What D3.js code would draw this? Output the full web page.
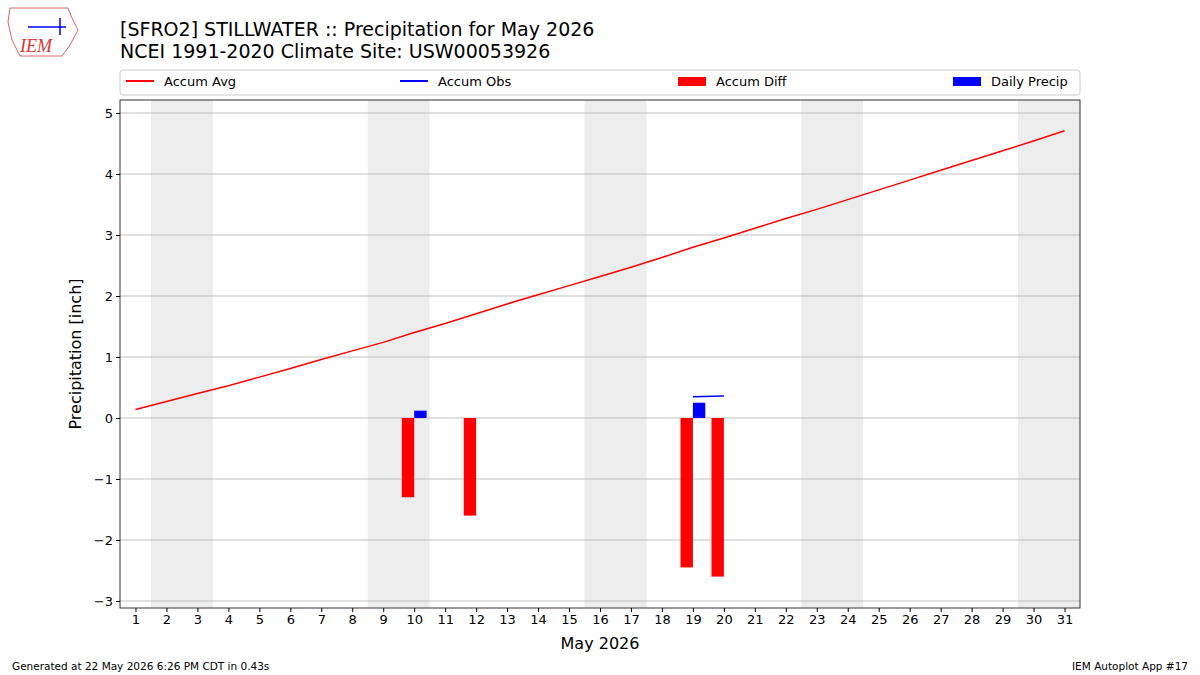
<!DOCTYPE html>
<html><head><meta charset="utf-8">
<script src="https://cdn.jsdelivr.net/npm/d3@7"></script>
<style>body{margin:0;background:#fff;font-family:"DejaVu Sans",sans-serif}</style>
</head><body><div id="chart"></div>
<script>
var days = d3.range(1, 32);
var accumAvg = [0.14,0.27,0.40,0.53,0.67,0.81,0.96,1.10,1.24,1.40,1.55,1.71,1.87,2.02,2.17,2.32,2.47,2.63,2.80,2.95,3.11,3.27,3.42,3.58,3.74,3.90,4.06,4.22,4.38,4.54,4.71];
var obsDays = [19, 20];
var accumObs = [0.35, 0.36];
var diffDays = [10, 12, 19, 20];
var accumDiff = [-1.30, -1.60, -2.45, -2.60];
var precipDays = [10, 19];
var dailyPrecip = [0.12, 0.25];
var weekends = [[1.5,3.5],[8.5,10.5],[15.5,17.5],[22.5,24.5],[29.5,31.5]];
var yTicks = [-3,-2,-1,0,1,2,3,4,5];

var W = 1200, H = 675;
var m = {left:120, right:1080, top:100, bottom:608};
var svg = d3.select("#chart").append("svg").attr("width", W).attr("height", H);

var x = d3.scaleLinear().domain([0.5, 31.5]).range([m.left, m.right]);
var y = d3.scaleLinear().domain([-3.115, 5.213]).range([m.bottom, m.top]);

svg.selectAll(".wk").data(weekends).enter().append("rect")
    .attr("x", function(d){ return x(d[0]); })
    .attr("width", function(d){ return x(d[1]) - x(d[0]); })
    .attr("y", m.top).attr("height", m.bottom - m.top)
    .attr("fill", "#ededed");

svg.selectAll(".grid").data(yTicks).enter().append("line")
    .attr("x1", m.left).attr("x2", m.right)
    .attr("y1", function(d){ return y(d); }).attr("y2", function(d){ return y(d); })
    .attr("stroke", "#b0b0b0").attr("stroke-width", 0.8);

svg.selectAll(".diff").data(diffDays).enter().append("rect")
    .attr("x", function(d){ return x(d - 0.4); })
    .attr("width", x(1.4) - x(1))
    .attr("y", y(0))
    .attr("height", function(d, i){ return y(accumDiff[i]) - y(0); })
    .attr("fill", "red");

svg.selectAll(".pr").data(precipDays).enter().append("rect")
    .attr("x", function(d){ return x(d); })
    .attr("width", x(1.4) - x(1))
    .attr("y", function(d, i){ return y(dailyPrecip[i]); })
    .attr("height", function(d, i){ return y(0) - y(dailyPrecip[i]); })
    .attr("fill", "blue");

var line = d3.line().x(function(d){ return x(d[0]); }).y(function(d){ return y(d[1]); });
svg.append("path").datum(days.map(function(d, i){ return [d, accumAvg[i]]; }))
    .attr("d", line).attr("fill", "none").attr("stroke", "red").attr("stroke-width", 1.5);
svg.append("path").datum(obsDays.map(function(d, i){ return [d, accumObs[i]]; }))
    .attr("d", line).attr("fill", "none").attr("stroke", "blue").attr("stroke-width", 1.5);

svg.append("rect").attr("x", m.left).attr("y", m.top)
    .attr("width", m.right - m.left).attr("height", m.bottom - m.top)
    .attr("fill", "none").attr("stroke", "#000").attr("stroke-width", 0.8);

var xAxis = svg.append("g").attr("transform", "translate(0," + m.bottom + ")")
    .call(d3.axisBottom(x).tickValues(days).tickFormat(d3.format("d")).tickSizeOuter(0).tickSize(4));
var yAxis = svg.append("g").attr("transform", "translate(" + m.left + ",0)")
    .call(d3.axisLeft(y).tickValues(yTicks).tickFormat(function(d){ return d < 0 ? "\u2212" + (-d) : d; }).tickSizeOuter(0).tickSize(4));
[xAxis, yAxis].forEach(function(a){
    a.select(".domain").remove();
    a.selectAll("text").attr("font-size", 13).attr("font-family", "DejaVu Sans").attr("fill", "#000");
});

svg.append("text").attr("x", 600).attr("y", 649).attr("text-anchor", "middle")
    .attr("font-size", 16).text("May 2026");
svg.append("text").attr("transform", "translate(81,354) rotate(-90)").attr("text-anchor", "middle")
    .attr("font-size", 16).text("Precipitation [inch]");

svg.append("text").attr("x", 120).attr("y", 36).attr("font-size", 19)
    .text("[SFRO2] STILLWATER :: Precipitation for May 2026");
svg.append("text").attr("x", 120).attr("y", 58).attr("font-size", 19)
    .text("NCEI 1991-2020 Climate Site: USW00053926");

// legend
svg.append("rect").attr("x", 120).attr("y", 70).attr("width", 960).attr("height", 25)
    .attr("fill", "#fff").attr("stroke", "#ccc").attr("rx", 3);
var legend = [
    {label:"Accum Avg", color:"red", type:"line", x:126},
    {label:"Accum Obs", color:"blue", type:"line", x:400},
    {label:"Accum Diff", color:"red", type:"rect", x:678},
    {label:"Daily Precip", color:"blue", type:"rect", x:953}
];
legend.forEach(function(l){
    if (l.type == "line") {
        svg.append("line").attr("x1", l.x).attr("x2", l.x + 28).attr("y1", 81).attr("y2", 81)
            .attr("stroke", l.color).attr("stroke-width", 2);
    } else {
        svg.append("rect").attr("x", l.x).attr("y", 77).attr("width", 28).attr("height", 9).attr("fill", l.color);
    }
    svg.append("text").attr("x", l.x + 38).attr("y", 86).attr("font-size", 13).text(l.label);
});

// logo
var logo = svg.append("g");
logo.append("path").attr("d", "M10,8 L68,8 L72,18 L78,30 L70,45 L62,56 L20,56 L12,40 L8,22 Z")
    .attr("fill", "#fff").attr("stroke", "#d66").attr("stroke-width", 1);
logo.append("line").attr("x1", 28).attr("x2", 66).attr("y1", 27).attr("y2", 27).attr("stroke", "blue").attr("stroke-width", 1.5);
logo.append("line").attr("x1", 60).attr("x2", 60).attr("y1", 18).attr("y2", 35).attr("stroke", "blue").attr("stroke-width", 1.5);
logo.append("text").attr("x", 20).attr("y", 52).attr("font-size", 18).attr("font-style", "italic")
    .attr("font-family", "Liberation Serif").attr("fill", "#d33").text("IEM");

svg.append("text").attr("x", 12).attr("y", 670).attr("font-size", 10.5)
    .text("Generated at 22 May 2026 6:26 PM CDT in 0.43s");
svg.append("text").attr("x", 1188).attr("y", 670).attr("font-size", 10.5).attr("text-anchor", "end")
    .text("IEM Autoplot App #17");
</script></body></html>
